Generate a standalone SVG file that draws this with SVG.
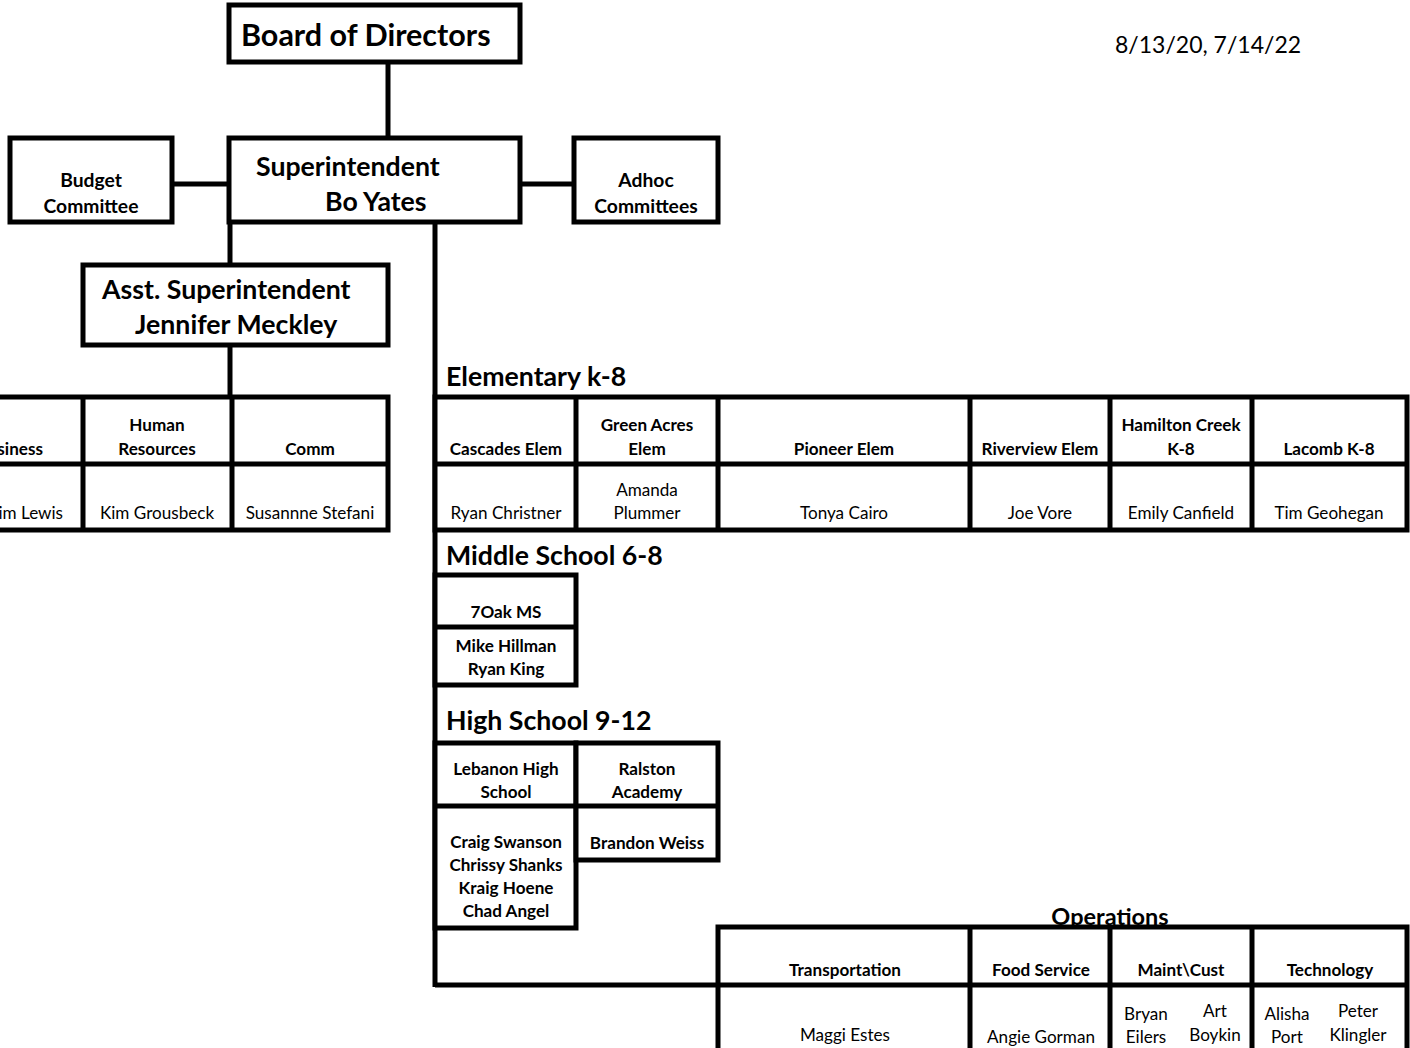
<svg xmlns="http://www.w3.org/2000/svg" width="1410" height="1048" viewBox="0 0 1410 1048">
<style>
text{font-family:Lato,"Open Sans","Liberation Sans",sans-serif;fill:#000}
.b{font-weight:bold}
.c{text-anchor:middle}
.t28{font-size:30.5px}
.t24{font-size:26.7px}
.t18{font-size:19.3px}
.t16{font-size:17.1px}
.t20{font-size:23px}
.box{fill:#fff;stroke:#000;stroke-width:5}
.ln{stroke:#000;stroke-width:5;fill:none}
</style>
<rect width="1410" height="1048" fill="#fff"/>
<g id="connectors">
<line class="ln" x1="388" y1="62" x2="388" y2="138"/>
<line class="ln" x1="172" y1="184" x2="229" y2="184"/>
<line class="ln" x1="520" y1="184" x2="574" y2="184"/>
<line class="ln" x1="230" y1="222" x2="230" y2="265"/>
<line class="ln" x1="230" y1="345" x2="230" y2="397"/>
<line class="ln" x1="435" y1="222" x2="435" y2="987"/>
<line class="ln" x1="435" y1="985" x2="718" y2="985"/>
</g>
<g id="date"><text class="t20" x="1115" y="53">8/13/20, 7/14/22</text></g>
<g id="board"><rect class="box" x="229" y="5" width="291" height="57"/>
<text class="b t28" x="241" y="46">Board of Directors</text></g>
<g id="superintendent"><rect class="box" x="229" y="138" width="291" height="84"/>
<text class="b t24" x="256" y="176">Superintendent</text>
<text class="b t24" x="325" y="211">Bo Yates</text></g>
<g id="budget"><rect class="box" x="10" y="138" width="162" height="84"/>
<text class="b t18 c" x="91" y="187">Budget</text>
<text class="b t18 c" x="91" y="213">Committee</text></g>
<g id="adhoc"><rect class="box" x="574" y="138" width="144" height="84"/>
<text class="b t18 c" x="646" y="187">Adhoc</text>
<text class="b t18 c" x="646" y="213">Committees</text></g>
<g id="asst"><rect class="box" x="83" y="265" width="305" height="80"/>
<text class="b t24" x="102" y="299">Asst. Superintendent</text>
<text class="b t24" x="135" y="334">Jennifer Meckley</text></g>
<g id="central-office">
<rect class="box" x="-10" y="397" width="398" height="133"/>
<line class="ln" x1="-10" y1="464" x2="388" y2="464"/>
<line class="ln" x1="83" y1="397" x2="83" y2="530"/>
<line class="ln" x1="232" y1="397" x2="232" y2="530"/>
<text class="b t16" x="43" y="455" text-anchor="end">Business</text>
<text class="t16" x="63" y="519" text-anchor="end">Kim Lewis</text>
<text class="b t16 c" x="157" y="431">Human</text>
<text class="b t16 c" x="157" y="455">Resources</text>
<text class="t16 c" x="157" y="519">Kim Grousbeck</text>
<text class="b t16 c" x="310" y="455">Comm</text>
<text class="t16 c" x="310" y="519">Susannne Stefani</text>
</g>
<g id="elementary">
<text class="b t24" x="446" y="386">Elementary k-8</text>
<rect class="box" x="435" y="397" width="972" height="133"/>
<line class="ln" x1="435" y1="464" x2="1407" y2="464"/>
<line class="ln" x1="576" y1="397" x2="576" y2="530"/>
<line class="ln" x1="718" y1="397" x2="718" y2="530"/>
<line class="ln" x1="970" y1="397" x2="970" y2="530"/>
<line class="ln" x1="1110" y1="397" x2="1110" y2="530"/>
<line class="ln" x1="1252" y1="397" x2="1252" y2="530"/>
<text class="b t16 c" x="506" y="455">Cascades Elem</text>
<text class="t16 c" x="506" y="519">Ryan Christner</text>
<text class="b t16 c" x="647" y="431">Green Acres</text>
<text class="b t16 c" x="647" y="455">Elem</text>
<text class="t16 c" x="647" y="496">Amanda</text>
<text class="t16 c" x="647" y="519">Plummer</text>
<text class="b t16 c" x="844" y="455">Pioneer Elem</text>
<text class="t16 c" x="844" y="519">Tonya Cairo</text>
<text class="b t16 c" x="1040" y="455">Riverview Elem</text>
<text class="t16 c" x="1040" y="519">Joe Vore</text>
<text class="b t16 c" x="1181" y="431">Hamilton Creek</text>
<text class="b t16 c" x="1181" y="455">K-8</text>
<text class="t16 c" x="1181" y="519">Emily Canfield</text>
<text class="b t16 c" x="1329" y="455">Lacomb K-8</text>
<text class="t16 c" x="1329" y="519">Tim Geohegan</text>
</g>
<g id="middle">
<text class="b t24" x="446" y="565">Middle School 6-8</text>
<rect class="box" x="435" y="575" width="141" height="110"/>
<line class="ln" x1="435" y1="627" x2="576" y2="627"/>
<text class="b t16 c" x="506" y="618">7Oak MS</text>
<text class="b t16 c" x="506" y="652">Mike Hillman</text>
<text class="b t16 c" x="506" y="675">Ryan King</text>
</g>
<g id="high">
<text class="b t24" x="446" y="730">High School 9-12</text>
<rect class="box" x="435" y="743" width="141" height="185"/>
<rect class="box" x="576" y="743" width="142" height="117"/>
<line class="ln" x1="435" y1="806" x2="718" y2="806"/>
<text class="b t16 c" x="506" y="775">Lebanon High</text>
<text class="b t16 c" x="506" y="798">School</text>
<text class="b t16 c" x="647" y="775">Ralston</text>
<text class="b t16 c" x="647" y="798">Academy</text>
<text class="b t16 c" x="506" y="848">Craig Swanson</text>
<text class="b t16 c" x="506" y="871">Chrissy Shanks</text>
<text class="b t16 c" x="506" y="894">Kraig Hoene</text>
<text class="b t16 c" x="506" y="917">Chad Angel</text>
<text class="b t16 c" x="647" y="849">Brandon Weiss</text>
</g>
<g id="operations">
<text class="b c" style="font-size:23.5px" x="1110" y="925">Operations</text>
<rect class="box" x="718" y="927" width="689" height="140"/>
<line class="ln" x1="718" y1="985" x2="1407" y2="985"/>
<line class="ln" x1="970" y1="927" x2="970" y2="1060"/>
<line class="ln" x1="1110" y1="927" x2="1110" y2="1060"/>
<line class="ln" x1="1252" y1="927" x2="1252" y2="1060"/>
<text class="b t16 c" x="845" y="976">Transportation</text>
<text class="t16 c" x="845" y="1041">Maggi Estes</text>
<text class="b t16 c" x="1041" y="976">Food Service</text>
<text class="t16 c" x="1041" y="1043">Angie Gorman</text>
<text class="b t16 c" x="1181" y="976">Maint\Cust</text>
<text class="t16 c" x="1146" y="1020">Bryan</text>
<text class="t16 c" x="1146" y="1043">Eilers</text>
<text class="t16 c" x="1215" y="1017">Art</text>
<text class="t16 c" x="1215" y="1041">Boykin</text>
<text class="b t16 c" x="1330" y="976">Technology</text>
<text class="t16 c" x="1287" y="1020">Alisha</text>
<text class="t16 c" x="1287" y="1043">Port</text>
<text class="t16 c" x="1358" y="1017">Peter</text>
<text class="t16 c" x="1358" y="1041">Klingler</text>
</g>
</svg>
